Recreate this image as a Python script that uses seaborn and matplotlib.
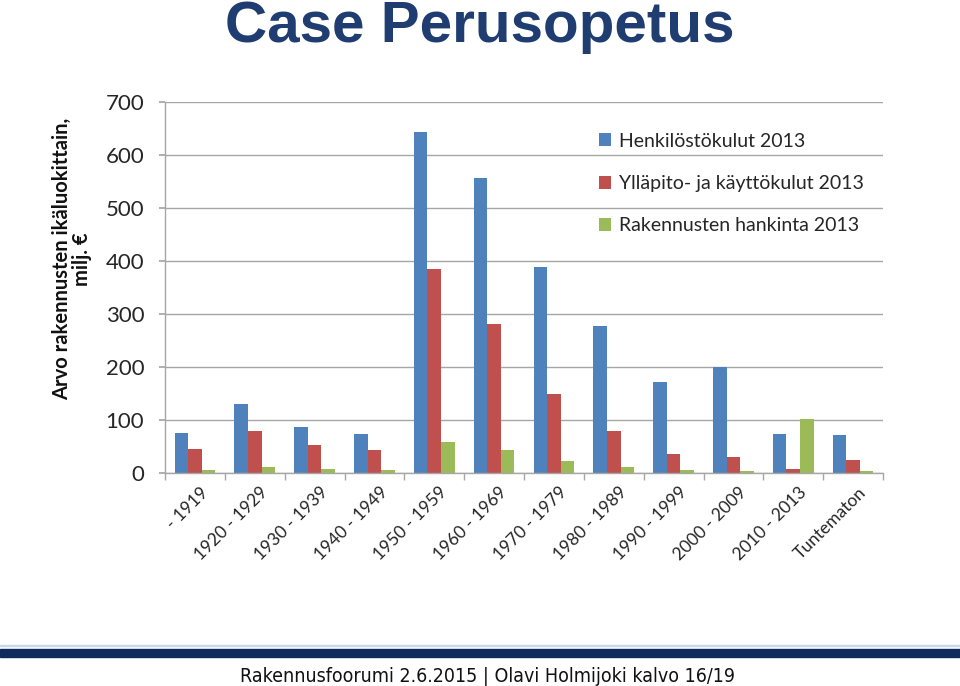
import matplotlib
matplotlib.use("Agg")
import matplotlib.pyplot as plt
import matplotlib.transforms as mtransforms
from matplotlib.patches import Rectangle
import seaborn as sns
import pandas as pd

categories = ["- 1919", "1920 - 1929", "1930 - 1939", "1940 - 1949", "1950 - 1959",
              "1960 - 1969", "1970 - 1979", "1980 - 1989", "1990 - 1999", "2000 - 2009",
              "2010 - 2013", "Tuntematon"]
series_names = ["Henkilöstökulut 2013", "Ylläpito- ja käyttökulut 2013", "Rakennusten hankinta 2013"]
henkilosto = [76, 131, 87, 73, 643, 557, 389, 277, 172, 200, 74, 72]
yllapito = [45, 79, 52, 43, 385, 281, 149, 80, 36, 31, 8, 25]
hankinta = [6, 11, 7, 6, 59, 43, 23, 11, 5, 4, 102, 3]
yticks = [0, 100, 200, 300, 400, 500, 600, 700]
colors = ["#4F81BD", "#C0504D", "#9BBB59"]

rows = []
for name, vals in zip(series_names, [henkilosto, yllapito, hankinta]):
    for c, v in zip(categories, vals):
        rows.append({"cat": c, "series": name, "value": v})
df = pd.DataFrame(rows)

sns.set_theme(style="white")
plt.rcParams['font.family'] = ['Lato', 'DejaVu Sans']

fig = plt.figure(figsize=(9.6, 6.86), dpi=100)
ax = fig.add_axes([165/960, 1-473/686, (883-165)/960, (473-102)/686])

sns.barplot(data=df, x="cat", y="value", hue="series", order=categories,
            hue_order=series_names, palette=colors, width=0.68, saturation=1,
            ax=ax, edgecolor="none", linewidth=0)

ax.set_ylim(0, 700)
ax.set_xlim(-0.5, len(categories) - 0.5)
ax.set_yticks(yticks)
ax.set_yticklabels([str(t) for t in yticks], fontsize=16)
ax.yaxis.grid(True, color="#A6A6A6", linewidth=1)
ax.set_axisbelow(True)
for s in ["top", "right"]:
    ax.spines[s].set_visible(False)
for s in ["left", "bottom"]:
    ax.spines[s].set_color("#A6A6A6")
    ax.spines[s].set_linewidth(1)
ax.tick_params(axis="y", which="both", left=True, length=4, color="#A6A6A6", pad=11)
ax.set_xticks([i - 0.5 for i in range(len(categories) + 1)], minor=True)
ax.tick_params(axis="x", which="minor", bottom=True, length=5, color="#A6A6A6")
ax.tick_params(axis="x", which="major", bottom=False, pad=2)
ax.set_xticks(range(len(categories)))
ax.set_xticklabels(categories, rotation=45, ha="right", rotation_mode="anchor", fontsize=12.5)
offset = mtransforms.ScaledTranslation(5/100, 0, fig.dpi_scale_trans)
for lab in ax.get_xticklabels():
    lab.set_transform(lab.get_transform() + offset)
ax.set_xlabel("")
ax.set_ylabel("")

fig.text(72/960, 1-259/686, "Arvo rakennusten ikäluokittain,\nmilj. €", rotation=90,
         ha="center", va="center", multialignment="center", fontsize=14.5,
         fontweight="bold", linespacing=1.05, color="#111111")

leg = ax.legend(loc="upper left", bbox_to_anchor=((591-165)/718, 1-(125-102)/371),
                frameon=False, fontsize=14, handlelength=0.65, handleheight=0.65,
                labelspacing=1.3, handletextpad=0.4, borderaxespad=0)

fig.text(480/960, 1-42/686, "Case Perusopetus", ha="center", va="baseline",
         fontsize=42, fontweight="bold", color="#1F3D70",
         family=["Liberation Sans", "DejaVu Sans"])

fig.patches.append(Rectangle((0, 1-646/686), 1, 1/686, transform=fig.transFigure,
                             color="#C6D9F1", zorder=0))
fig.patches.append(Rectangle((0, 1-657/686), 1, 8/686, transform=fig.transFigure,
                             color="#0F2B5E", zorder=0))
fig.text(487/960, 1-676/686, "Rakennusfoorumi 2.6.2015 | Olavi Holmijoki kalvo 16/19",
         ha="center", va="center", fontsize=14, color="#111111",
         family=["DejaVu Sans Condensed", "Liberation Sans Narrow", "DejaVu Sans"],
         fontstretch="condensed")

fig.savefig("out.png", dpi=100)
